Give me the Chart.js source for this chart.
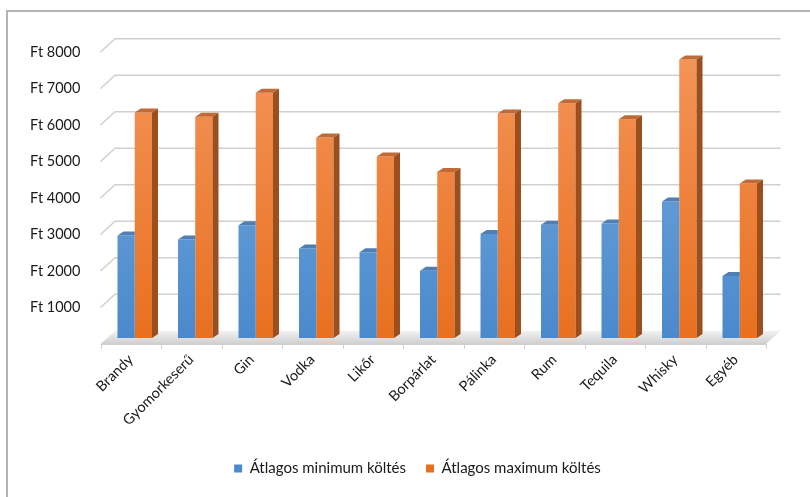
<!DOCTYPE html>
<html>
<head>
<meta charset="utf-8">
<script src="https://cdn.jsdelivr.net/npm/chart.js@4.4.1/dist/chart.umd.min.js"></script>
<style>
  html, body { margin: 0; padding: 0; background: #fff; }
  #frame { position: absolute; left: 6px; top: 10px; width: 804px; height: 487px;
           border-top: 2px solid #b5b5b5; border-left: 2px solid #b5b5b5; box-sizing: border-box; }
  #chart { position: absolute; left: 0; top: 0; }
</style>
</head>
<body>
<div id="frame"></div>
<canvas id="chart" width="810" height="497"></canvas>
<script>
const categories = ['Brandy', 'Gyomorkeserű', 'Gin', 'Vodka', 'Likőr', 'Borpárlat', 'Pálinka', 'Rum', 'Tequila', 'Whisky', 'Egyéb'];
const minSpend = [2810, 2700, 3090, 2450, 2350, 1840, 2850, 3100, 3140, 3740, 1700];
const maxSpend = [6180, 6060, 6720, 5490, 4970, 4550, 6150, 6430, 5990, 7630, 4230];
const seriesNames = ['Átlagos minimum költés', 'Átlagos maximum költés'];

// 3D offsets relative to the bar plane
const back = { x: 10.5, y: -7.3 };
const front = { x: -4, y: 6 };
const depth = { x: 6, y: -4 };

function vGrad(ctx, area, top, bottom) {
  if (!area) return bottom;
  const g = ctx.createLinearGradient(0, area.top, 0, area.bottom);
  g.addColorStop(0, top);
  g.addColorStop(1, bottom);
  return g;
}

const wallPlugin = {
  id: 'walls',
  beforeDatasetsDraw(chart) {
    const { ctx, chartArea: a, scales: { y } } = chart;
    const y0 = y.getPixelForValue(0);
    ctx.save();
    // floor
    const fg = ctx.createLinearGradient(0, y0 + back.y, 0, y0 + front.y);
    fg.addColorStop(0, '#f2f2f2');
    fg.addColorStop(1, '#cfcfcf');
    ctx.fillStyle = fg;
    ctx.beginPath();
    ctx.moveTo(a.left + front.x, y0 + front.y);
    ctx.lineTo(a.right + front.x, y0 + front.y);
    ctx.lineTo(a.right + back.x, y0 + back.y);
    ctx.lineTo(a.left + back.x, y0 + back.y);
    ctx.closePath();
    ctx.fill();
    // gridlines on back wall + side wall
    ctx.strokeStyle = '#d0d0d0';
    ctx.lineWidth = 1.5;
    y.ticks.forEach(t => {
      if (t.value === 0) return;
      const py = y.getPixelForValue(t.value);
      ctx.beginPath();
      ctx.moveTo(a.left + front.x, py + front.y);
      ctx.lineTo(a.left + back.x, py + back.y);
      ctx.lineTo(a.right + back.x, py + back.y);
      ctx.stroke();
    });
    // front axis line with category ticks
    ctx.strokeStyle = '#d0d0d0';
    ctx.lineWidth = 1;
    ctx.beginPath();
    ctx.moveTo(a.left + front.x, y0 + front.y + 0.5);
    ctx.lineTo(a.right + front.x, y0 + front.y + 0.5);
    const w = (a.right - a.left) / categories.length;
    for (let i = 0; i <= categories.length; i++) {
      const px = Math.round(a.left + front.x + i * w) + 0.5;
      ctx.moveTo(px, y0 + front.y);
      ctx.lineTo(px, y0 + front.y + 5);
    }
    ctx.stroke();
    ctx.restore();
  },
  afterDatasetsDraw(chart) {
    const { ctx } = chart;
    const faces = [
      { top: '#4f7fb5', side: '#3a6795' },
      { top: '#c06a36', side: '#9b4f1e' }
    ];
    ctx.save();
    [0, 1].forEach(di => {
      chart.getDatasetMeta(di).data.forEach(bar => {
        const l = bar.x - bar.width / 2, r = bar.x + bar.width / 2;
        ctx.save();
        if (di === 0) {
          // blue sits in front-left of orange: keep its top face off the orange front
          ctx.beginPath();
          ctx.rect(l - 1, 0, r - l + 1, chart.height);
          ctx.clip();
        }
        ctx.fillStyle = faces[di].top;
        ctx.beginPath();
        ctx.moveTo(l, bar.y);
        ctx.lineTo(r, bar.y);
        ctx.lineTo(r + depth.x, bar.y + depth.y);
        ctx.lineTo(l + depth.x, bar.y + depth.y);
        ctx.closePath();
        ctx.fill();
        if (di === 1) {
          ctx.fillStyle = faces[di].side;
          ctx.beginPath();
          ctx.moveTo(r, bar.y);
          ctx.lineTo(r + depth.x, bar.y + depth.y);
          ctx.lineTo(r + depth.x, bar.base + depth.y);
          ctx.lineTo(r, bar.base);
          ctx.closePath();
          ctx.fill();
        }
        ctx.restore();
      });
    });
    ctx.restore();
  }
};

const ctx = document.getElementById('chart').getContext('2d');
new Chart(ctx, {
  type: 'bar',
  data: {
    labels: categories,
    datasets: [
      {
        label: seriesNames[0],
        data: minSpend,
        backgroundColor: c => vGrad(c.chart.ctx, c.chart.chartArea, '#7aaee0', '#4a89cc'),
        borderWidth: 0
      },
      {
        label: seriesNames[1],
        data: maxSpend,
        backgroundColor: c => vGrad(c.chart.ctx, c.chart.chartArea, '#f4955a', '#e8701f'),
        borderWidth: 0
      }
    ]
  },
  options: {
    responsive: false,
    animation: false,
    devicePixelRatio: 1,
    categoryPercentage: 0.57,
    barPercentage: 1.0,
    layout: { padding: { left: 65, right: 40, top: 46, bottom: 11 } },
    plugins: {
      tooltip: { enabled: false },
      legend: {
        position: 'bottom',
        labels: {
          boxWidth: 8,
          boxHeight: 8,
          padding: 20,
          color: '#1a1a1a',
          font: { family: 'Lato', size: 15 }
        }
      }
    },
    scales: {
      x: {
        grid: { display: false },
        border: { display: false },
        ticks: {
          autoSkip: false,
          minRotation: 45,
          maxRotation: 45,
          labelOffset: -4,
          padding: 5,
          color: '#1a1a1a',
          font: { family: 'Lato', size: 14.5 }
        },
        afterFit: s => { s.height = 103; }
      },
      y: {
        min: 0,
        max: 8000,
        grid: { display: false },
        border: { display: false },
        ticks: {
          stepSize: 1000,
          mirror: true,
          padding: -74.5,
          labelOffset: 6,
          color: '#1a1a1a',
          font: { family: 'Lato', size: 14.5 },
          callback: v => v === 0 ? '' : 'Ft ' + v
        },
        afterFit: s => { s.width = 39.5; }
      }
    }
  },
  plugins: [wallPlugin]
});
</script>
</body>
</html>
